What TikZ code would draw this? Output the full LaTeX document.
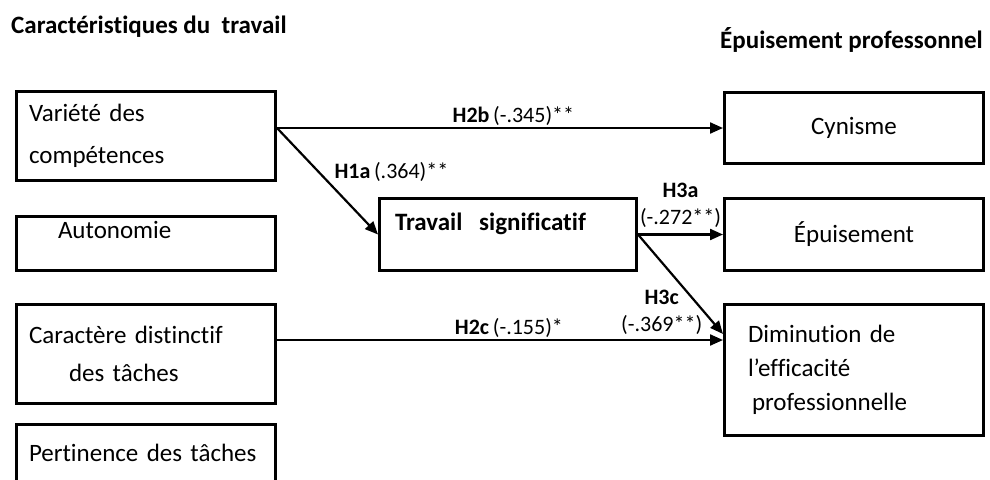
\documentclass[tikz,border=0pt]{standalone}
\usepackage{fontspec}
\setmainfont{Carlito}[Ligatures=NoCommon]
\usetikzlibrary{arrows.meta, positioning, calc}

\begin{document}
\begin{tikzpicture}[x=1pt, y=1pt,
  every node/.style={font=\fontsize{25}{38}\selectfont},
  box/.style ={rectangle, draw, line width=3pt, minimum width=259pt, inner sep=0pt},
  lbox/.style={box, align=left, text width=234pt},
  cbox/.style={box, align=center},
  hd/.style  ={font=\fontsize{25}{30}\selectfont\bfseries, inner sep=0pt},
  lbl/.style ={font=\fontsize{22}{27}\selectfont, inner sep=1pt, align=center},
  arr/.style ={-{Triangle[length=13pt,width=11pt]}, line width=2.2pt},
]
\useasboundingbox (0,0) rectangle (990,-479);

% Headings
\node[hd, anchor=base west] (thead) at (11,-33) {Caractéristiques du\ \ travail};
\node[hd, anchor=base east] (bhead) at (983,-48) {Épuisement professonnel};

% Job characteristics
\node[lbox, minimum height=89pt, anchor=north west, font=\fontsize{25}{42}\selectfont] (var) at (15,-90)
  {Variété des\\compétences};
\node[lbox, minimum height=54pt, below=33pt of var, text height=18pt, text depth=28pt] (auto)
  {\hspace*{29pt}Autonomie};
\node[lbox, minimum height=99pt, below=31pt of auto] (dist)
  {Caractère distinctif\\\hspace*{40pt}des tâches};
\node[lbox, minimum height=57pt, below=18pt of dist] (pert) {Pertinence des tâches};

% Mediator
\node[lbox, minimum width=257pt, minimum height=72pt, text width=226pt,
      text height=18pt, text depth=26pt, font=\fontsize{25}{30}\selectfont\bfseries,
      right=101pt of auto.south east, anchor=south west] (trav) {Travail\ \ significatif};

% Burnout
\node[cbox, minimum height=72pt, right=85pt of trav] (epu) {Épuisement};
\node[cbox, minimum height=71pt, above=32pt of epu]  (cyn) {Cynisme};
\node[lbox, minimum height=131pt, text width=212pt, font=\fontsize{25}{34}\selectfont,
      below=31pt of epu] (dim) {Diminution de\\l’efficacité\\\hspace*{4pt}professionnelle};

% Paths
\coordinate (src) at (var.east |- cyn.west);
\coordinate (dsrc) at ([yshift=14pt]dist.east);

\draw[arr] (src) -- node[lbl, above, pos=.53] {\textbf{H2b}\,(-.345)**} (cyn.west);
\draw[arr] (src) -- node[lbl, anchor=west, pos=.41, xshift=14pt] {\textbf{H1a}\,(.364)**} (trav.west);
\draw[arr] (trav.east) -- node[lbl, above=5pt] {\textbf{H3a}\\(-.272**)} (epu.west);
\draw[arr] (trav.east) -- node[lbl, anchor=east, pos=.78] {\textbf{H3c}\\(-.369**)} ([yshift=36pt]dim.west);
\draw[arr] (dsrc) -- node[lbl, above, pos=.52] {\textbf{H2c}\,(-.155)*} (dsrc -| dim.west);

\end{tikzpicture}
\end{document}
